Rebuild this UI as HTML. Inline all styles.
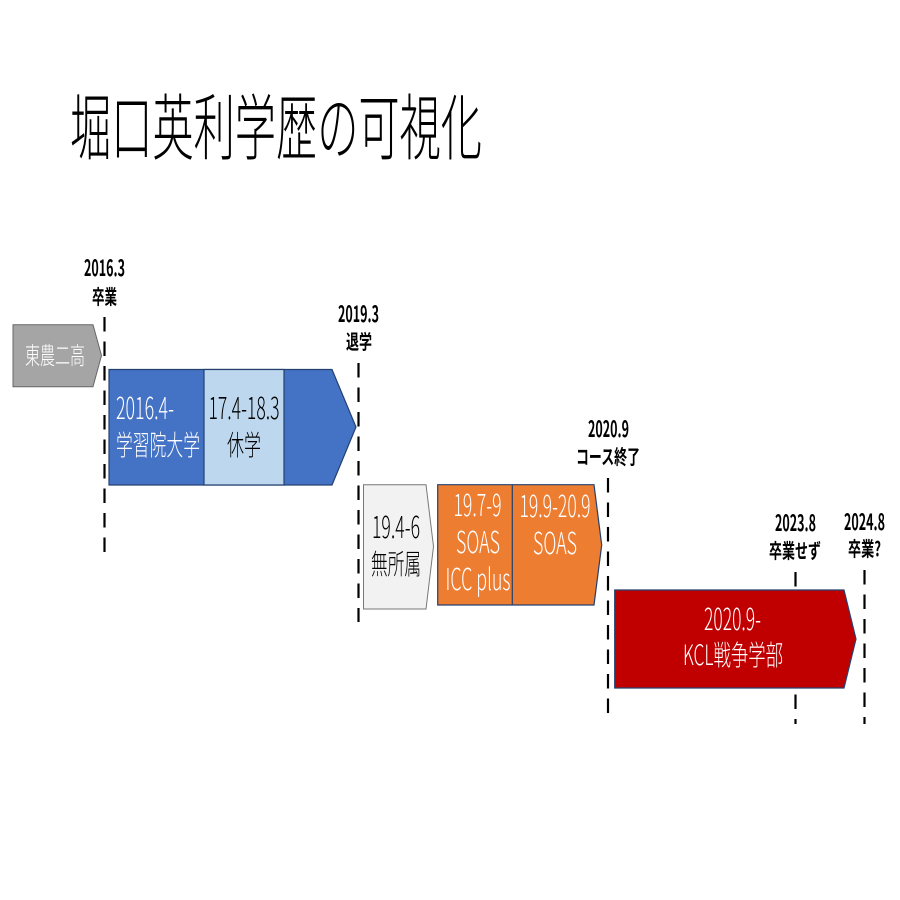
<!DOCTYPE html>
<html lang="ja">
<head>
<meta charset="utf-8">
<style>
html,body{margin:0;padding:0;background:#fff;width:900px;height:900px;overflow:hidden}
svg{display:block}
text{font-family:"Liberation Sans","Noto Sans CJK JP",sans-serif}
.c{font-family:"Noto Sans CJK JP","Liberation Sans",sans-serif;font-weight:300}
.b{font-family:"Noto Sans CJK JP","Liberation Sans",sans-serif;font-weight:700;font-size:20px;fill:#000}
.bn{font-size:22px}
.m{font-family:"Noto Sans CJK JP","Liberation Sans",sans-serif;font-weight:300;font-size:28px}
.n{font-size:30px}
.w{fill:#fff}.k{fill:#000}
line.d{stroke:#000;stroke-width:2.2;stroke-dasharray:14.5 10}
</style>
</head>
<body>
<svg width="900" height="900" viewBox="0 0 900 900" xmlns="http://www.w3.org/2000/svg">
<rect width="900" height="900" fill="#fff"/>

<text class="c" x="70" y="154" font-size="72" fill="#000" textLength="412" lengthAdjust="spacingAndGlyphs">堀口英利学歴の可視化</text>

<line class="d" x1="104.5" y1="317" x2="104.5" y2="552"/>
<line class="d" x1="358.5" y1="363" x2="358.5" y2="622"/>
<line class="d" x1="608" y1="478" x2="608" y2="713"/>
<line class="d" x1="795.5" y1="572" x2="795.5" y2="724"/>
<line class="d" x1="864.5" y1="570" x2="864.5" y2="724"/>

<polygon points="13,324.7 93,324.7 101.5,355.5 93,386.7 13,386.7" fill="#a5a5a5" stroke="#666" stroke-width="1"/>
<polygon points="109,369.5 332,369.5 356,427 332,485 109,485" fill="#4472c4" stroke="#24406f" stroke-width="1.2"/>
<rect x="204" y="369.5" width="80" height="115.5" fill="#bdd7ee" stroke="#24406f" stroke-width="1.2"/>
<polygon points="363.5,484.7 426,484.7 433.5,546.5 426,609 363.5,609" fill="#f2f2f2" stroke="#777" stroke-width="1"/>
<polygon points="437.7,484.7 594,484.7 601.7,545 594,605 437.7,605" fill="#ed7d31" stroke="#24406f" stroke-width="1.2"/>
<line x1="512.3" y1="484.7" x2="512.3" y2="605" stroke="#24406f" stroke-width="1.2"/>
<polygon points="614.7,590 844,590 856,639 844,688 614.7,688" fill="#c00000" stroke="#24406f" stroke-width="1.2"/>

<text class="c w" x="25" y="364" font-size="24" textLength="60" lengthAdjust="spacingAndGlyphs">東農二高</text>
<text class="m n w" x="116" y="419" textLength="58" lengthAdjust="spacingAndGlyphs">2016.4-</text>
<text class="m w" x="116" y="455" textLength="84" lengthAdjust="spacingAndGlyphs">学習院大学</text>
<text class="m n k" x="208.500" y="419" textLength="71" lengthAdjust="spacingAndGlyphs">17.4-18.3</text>
<text class="m k" x="227" y="455" textLength="34" lengthAdjust="spacingAndGlyphs">休学</text>
<text class="m n k" x="372" y="538" textLength="48" lengthAdjust="spacingAndGlyphs">19.4-6</text>
<text class="m k" x="371" y="574" textLength="50" lengthAdjust="spacingAndGlyphs">無所属</text>
<text class="m n w" x="453.500" y="516" textLength="48" lengthAdjust="spacingAndGlyphs">19.7-9</text>
<text class="m n w" x="456" y="553" textLength="44" lengthAdjust="spacingAndGlyphs">SOAS</text>
<text class="m n w" x="445.500" y="590" textLength="65" lengthAdjust="spacingAndGlyphs">ICC plus</text>
<text class="m n w" x="519.500" y="517" textLength="71" lengthAdjust="spacingAndGlyphs">19.9-20.9</text>
<text class="m n w" x="533" y="554" textLength="44" lengthAdjust="spacingAndGlyphs">SOAS</text>
<text class="m n w" x="704" y="630" textLength="57" lengthAdjust="spacingAndGlyphs">2020.9-</text>
<text class="m w" x="683" y="665" textLength="100" lengthAdjust="spacingAndGlyphs">KCL戦争学部</text>

<text class="b bn" x="84" y="276" textLength="41" lengthAdjust="spacingAndGlyphs">2016.3</text>
<text class="b" x="92" y="304" textLength="25" lengthAdjust="spacingAndGlyphs">卒業</text>
<text class="b bn" x="338" y="322" textLength="41" lengthAdjust="spacingAndGlyphs">2019.3</text>
<text class="b" x="346" y="349" textLength="26" lengthAdjust="spacingAndGlyphs">退学</text>
<text class="b bn" x="588" y="437" textLength="41" lengthAdjust="spacingAndGlyphs">2020.9</text>
<text class="b" x="576" y="464" textLength="64" lengthAdjust="spacingAndGlyphs">コース終了</text>
<text class="b bn" x="775" y="531" textLength="41" lengthAdjust="spacingAndGlyphs">2023.8</text>
<text class="b" x="769" y="558" textLength="52" lengthAdjust="spacingAndGlyphs">卒業せず</text>
<text class="b bn" x="844" y="530" textLength="41" lengthAdjust="spacingAndGlyphs">2024.8</text>
<text class="b" x="848" y="556" textLength="33" lengthAdjust="spacingAndGlyphs">卒業?</text>
</svg>
</body>
</html>
